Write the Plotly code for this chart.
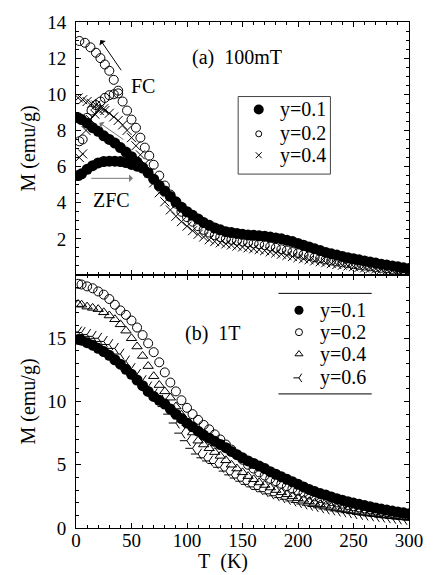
import plotly.graph_objects as go
from plotly.subplots import make_subplots

# ---------------- (a) 100 mT : magnetisation vs temperature ----------------
# y = 0.1, field-cooled
t_a01_fc = [2, 5, 10, 15, 20, 25, 30, 35, 40, 45, 50, 55, 60, 65, 70, 75, 80, 85, 90, 95,
            100, 105, 110, 115, 120, 125, 130, 135, 140, 145, 150, 155, 160, 165, 170, 175,
            180, 185, 190, 195, 200, 205, 210, 215, 220, 225, 230, 235, 240, 245, 250, 255,
            260, 265, 270, 275, 280, 285, 290, 295, 300]
m_a01_fc = [8.70, 8.60, 8.40, 8.15, 7.95, 7.70, 7.50, 7.30, 7.05, 6.80, 6.55, 6.25, 5.95, 5.65,
            5.30, 4.95, 4.65, 4.35, 4.05, 3.75, 3.50, 3.30, 3.10, 2.90, 2.75, 2.60, 2.50, 2.40,
            2.35, 2.30, 2.25, 2.22, 2.20, 2.17, 2.15, 2.10, 2.05, 2.00, 1.92, 1.85, 1.75, 1.65,
            1.55, 1.45, 1.35, 1.25, 1.17, 1.10, 1.03, 0.96, 0.90, 0.84, 0.78, 0.72, 0.66, 0.60,
            0.55, 0.50, 0.45, 0.40, 0.36]
# y = 0.1, zero-field-cooled
t_a01_zfc = [2, 5, 10, 15, 20, 25, 30, 35, 40, 45, 50, 55, 60]
m_a01_zfc = [5.50, 5.60, 5.85, 6.05, 6.20, 6.28, 6.30, 6.30, 6.28, 6.22, 6.12, 6.02, 5.92]

# y = 0.2, field-cooled
t_a02_fc = [3, 8, 13, 18, 22, 26, 30, 34, 38, 42, 46, 50, 54, 58, 62, 66, 70,
            75, 80, 85, 90, 95, 100, 105, 110, 115, 120, 125, 130, 135, 140, 145, 150,
            155, 160, 165, 170, 175, 180, 185, 190, 195, 200, 205, 210, 215, 220, 225,
            230, 235, 240, 245, 250, 255, 260, 265, 270, 275, 280, 285, 290, 295, 300]
m_a02_fc = [12.95, 12.85, 12.60, 12.30, 12.00, 11.65, 11.30, 10.80, 10.20, 9.60, 9.10, 8.60,
            8.15, 7.60, 7.05, 6.60, 6.10,
            5.50, 4.95, 4.45, 3.95, 3.50, 3.20, 2.95, 2.70, 2.50, 2.35, 2.20, 2.10, 2.00, 1.95,
            1.90, 1.85, 1.80, 1.75, 1.70, 1.65, 1.58, 1.50, 1.42, 1.35, 1.27, 1.20, 1.12, 1.05,
            0.98, 0.92, 0.86, 0.80, 0.75, 0.70, 0.65, 0.60, 0.56, 0.52, 0.48, 0.44, 0.40, 0.37,
            0.34, 0.31, 0.28, 0.26]
# y = 0.2, zero-field-cooled
t_a02_zfc = [3, 6, 10, 14, 18, 22, 26, 30, 34, 38]
m_a02_zfc = [7.40, 7.50, 8.70, 9.10, 9.40, 9.60, 9.80, 9.95, 10.00, 10.05]

# y = 0.4, field-cooled
t_a04_fc = [2, 6, 10, 14, 18, 22, 26, 30, 34, 38, 42, 46, 50, 54, 58, 62, 66, 70,
            75, 80, 85, 90, 95, 100, 105, 110, 115, 120, 125, 130, 135, 140, 145, 150,
            155, 160, 165, 170, 175, 180, 185, 190, 195, 200, 205, 210, 215, 220, 225,
            230, 235, 240, 245, 250, 255, 260, 265, 270, 275, 280, 285, 290, 295, 300]
m_a04_fc = [9.80, 9.70, 9.60, 9.50, 9.40, 9.25, 9.10, 8.95, 8.75, 8.55, 8.30, 8.00, 7.60,
            7.15, 6.65, 6.15, 5.65, 5.10,
            4.55, 4.05, 3.60, 3.25, 2.95, 2.70, 2.45, 2.25, 2.10, 1.95, 1.85, 1.78, 1.72,
            1.66, 1.60, 1.55, 1.50, 1.45, 1.40, 1.35, 1.28, 1.22, 1.15, 1.08, 1.02, 0.96,
            0.90, 0.84, 0.78, 0.73, 0.68, 0.63, 0.58, 0.54, 0.50, 0.46, 0.42, 0.39, 0.36,
            0.33, 0.30, 0.27, 0.24, 0.22, 0.20, 0.18]
# y = 0.4, zero-field-cooled
t_a04_zfc = [3, 6, 9, 13, 17, 21, 25]
m_a04_zfc = [6.50, 6.70, 8.00, 8.60, 8.90, 9.10, 9.20]

# ---------------- (b) 1 T ----------------
t_b = [2, 5, 10, 15, 20, 25, 30, 35, 40, 45, 50, 55, 60, 65, 70, 75, 80, 85, 90, 95,
       100, 105, 110, 115, 120, 125, 130, 135, 140, 145, 150, 155, 160, 165, 170, 175,
       180, 185, 190, 195, 200, 205, 210, 215, 220, 225, 230, 235, 240, 245, 250, 255,
       260, 265, 270, 275, 280, 285, 290, 295, 300]
m_b01 = [14.90, 14.85, 14.65, 14.45, 14.20, 13.95, 13.65, 13.30, 12.95, 12.55, 12.15, 11.70,
         11.25, 10.80, 10.40, 10.10, 9.80, 9.40, 9.00, 8.65, 8.30, 8.00, 7.65, 7.35, 7.10,
         6.85, 6.60, 6.35, 6.05, 5.80, 5.55, 5.30, 5.10, 4.90, 4.70, 4.45, 4.25, 4.05, 3.85,
         3.65, 3.45, 3.25, 3.05, 2.88, 2.72, 2.60, 2.45, 2.32, 2.20, 2.08, 1.97, 1.87, 1.77,
         1.68, 1.59, 1.50, 1.42, 1.34, 1.27, 1.20, 1.13]
m_b02 = [19.30, 19.25, 19.10, 18.95, 18.70, 18.45, 18.10, 17.65, 17.20, 16.85, 16.40, 15.85,
         15.25, 14.60, 13.90, 13.10, 12.30, 11.50, 10.80, 10.10, 9.50, 9.00, 8.55, 8.15, 7.80,
         7.40, 7.00, 6.60, 6.20, 5.80, 5.40, 5.00, 4.70, 4.40, 4.15, 3.90, 3.70, 3.50, 3.30,
         3.12, 2.95, 2.80, 2.65, 2.50, 2.37, 2.25, 2.13, 2.02, 1.92, 1.82, 1.72, 1.63, 1.55,
         1.47, 1.39, 1.31, 1.24, 1.17, 1.10, 1.03, 0.97]
m_b04 = [17.70, 17.65, 17.50, 17.40, 17.30, 17.05, 16.80, 16.50, 16.10, 15.60, 15.00, 14.35,
         13.60, 12.80, 12.00, 11.30, 10.80, 10.30, 9.60, 8.95, 8.30, 7.55, 6.90, 6.60, 6.30,
         6.00, 5.70, 5.35, 5.00, 4.70, 4.40, 4.10, 3.85, 3.60, 3.40, 3.20, 3.00, 2.82, 2.66,
         2.50, 2.36, 2.23, 2.10, 1.98, 1.87, 1.77, 1.67, 1.58, 1.50, 1.42, 1.35, 1.28, 1.21,
         1.15, 1.09, 1.03, 0.98, 0.93, 0.88, 0.84, 0.80]
m_b06 = [15.50, 15.45, 15.30, 15.15, 15.00, 14.75, 14.50, 14.20, 13.75, 13.20, 12.60, 12.15,
         11.65, 11.15, 10.60, 10.10, 9.60, 9.00, 8.30, 7.50, 6.90, 6.30, 5.85, 5.55, 5.30,
         5.10, 4.80, 4.50, 4.20, 3.95, 3.70, 3.45, 3.25, 3.05, 2.87, 2.70, 2.55, 2.40, 2.27,
         2.14, 2.02, 1.90, 1.80, 1.70, 1.60, 1.51, 1.43, 1.35, 1.28, 1.21, 1.14, 1.08, 1.02,
         0.96, 0.91, 0.86, 0.81, 0.76, 0.72, 0.68, 0.64]

# legend labels
labels_a = ["y=0.1", "y=0.2", "y=0.4"]
labels_b = ["y=0.1", "y=0.2", "y=0.4", "y=0.6"]

FONT = "Liberation Serif"
INK = "black"

fig = make_subplots(rows=2, cols=1, shared_xaxes=True, vertical_spacing=0)

def sym(symbol, size, thin=False):
    line = dict(width=1, color=INK) if (thin or "open" in symbol) else dict(width=0)
    return dict(symbol=symbol, size=size, color=INK, line=line)

SYM = {"filled": "circle", "hollow": "circle-open", "cross": "x-thin",
       "tri": "triangle-up-open", "angle": "y-left"}
THIN = {"cross", "angle"}
PLOT_SIZE = {"filled": 11, "hollow": 9, "cross": 9, "tri": 9, "angle": 9}

def add(t, m, kind, row):
    fig.add_trace(go.Scatter(x=t, y=m, mode="markers",
                             marker=sym(SYM[kind], PLOT_SIZE[kind], kind in THIN),
                             showlegend=False, hoverinfo="skip"), row=row, col=1)

# panel (a)
add(t_a04_fc, m_a04_fc, "cross", 1)
add(t_a04_zfc, m_a04_zfc, "cross", 1)
add(t_a02_fc, m_a02_fc, "hollow", 1)
add(t_a02_zfc, m_a02_zfc, "hollow", 1)
add(t_a01_fc, m_a01_fc, "filled", 1)
add(t_a01_zfc, m_a01_zfc, "filled", 1)

# panel (b)
add(t_b, m_b06, "angle", 2)
add(t_b, m_b04, "tri", 2)
add(t_b, m_b02, "hollow", 2)
add(t_b, m_b01, "filled", 2)

axis_style = dict(showline=True, linewidth=1, linecolor=INK, mirror="ticks",
                  ticks="inside", ticklen=5, tickwidth=1, tickcolor=INK,
                  showgrid=False, zeroline=False,
                  tickfont=dict(family=FONT, size=19, color=INK))

fig.update_xaxes(**axis_style, range=[0, 300], dtick=50, tick0=0,
                 minor=dict(ticks="inside", ticklen=3, dtick=10, tick0=0, tickcolor=INK))
fig.update_xaxes(showticklabels=False, row=1, col=1)
fig.update_xaxes(ticklabelstandoff=-5, row=2, col=1)

fig.update_yaxes(**axis_style, range=[0, 14], tickvals=[2, 4, 6, 8, 10, 12, 14],
                 minor=dict(ticks="inside", ticklen=3, dtick=0.5, tick0=0, tickcolor=INK),
                 ticklabelstandoff=5,
                 title=dict(text="M (emu/g)", font=dict(family=FONT, size=20), standoff=6),
                 row=1, col=1)
fig.update_yaxes(**axis_style, range=[0, 20], tickvals=[0, 5, 10, 15],
                 minor=dict(ticks="inside", ticklen=3, dtick=1, tick0=0, tickcolor=INK),
                 ticklabelstandoff=5,
                 title=dict(text="M (emu/g)", font=dict(family=FONT, size=20), standoff=6),
                 row=2, col=1)

# transparent overlay axes spanning the plotting area, used to place legend keys
fig.update_layout(
    xaxis3=dict(domain=[0, 1], range=[0, 1], visible=False, fixedrange=True, anchor="y3"),
    yaxis3=dict(domain=[0, 1], range=[0, 1], visible=False, fixedrange=True, anchor="x3"),
)

txt = dict(family=FONT, size=20, color=INK)
def label(text, x, y, xanchor="center"):
    fig.add_annotation(text=text, xref="paper", yref="paper", x=x, y=y,
                       xanchor=xanchor, yanchor="middle", showarrow=False, font=txt)

def key_block(kinds, names, key_x, text_x, rows, sizes):
    for kind, name, ry, sz in zip(kinds, names, rows, sizes):
        fig.add_trace(go.Scatter(x=[key_x], y=[ry], mode="markers",
                                 marker=sym(SYM[kind], sz, kind in THIN),
                                 xaxis="x3", yaxis="y3", cliponaxis=False,
                                 showlegend=False, hoverinfo="skip"))
        label(name, text_x, ry, "left")

key_block(["filled", "hollow", "cross"], labels_a, 0.5487, 0.606,
          [0.8271, 0.7790, 0.7367], [10, 6, 6])
key_block(["filled", "hollow", "tri", "angle"], labels_b, 0.6696, 0.727,
          [0.4303, 0.3870, 0.3438, 0.2967], [9, 7, 7, 7])

# frame of the (a) legend
fig.add_shape(type="rect", xref="paper", yref="paper",
              x0=0.487, x1=0.764, y0=0.6994, y1=0.8527,
              line=dict(color="#444", width=1), fillcolor="rgba(0,0,0,0)")
# rules above and below the (b) legend
for yy in (0.4637, 0.265):
    fig.add_shape(type="line", xref="paper", yref="paper",
                  x0=0.608, x1=0.888, y0=yy, y1=yy, line=dict(color=INK, width=1))

fig.update_layout(
    width=435, height=575,
    margin=dict(l=76, r=20, t=19, b=47),
    plot_bgcolor="rgba(0,0,0,0)", paper_bgcolor="white",
    font=dict(family=FONT, size=19, color=INK),
    showlegend=False,
)

label("(a)\u00a0\u00a0100mT", 0.342, 0.929, "left")
label("(b)\u00a0\u00a01T", 0.322, 0.385, "left")
label("FC", 0.2006, 0.874)
label("ZFC", 0.106, 0.648)
label("T\u00a0\u00a0(K)", 0.442, -0.067)

# cooling / warming arrows in panel (a)
arrows = [
    (22, 13.0, 41.6, 11.25, INK),
    (21, 8.43, 44, 7.44, "#777"),
    (51.3, 5.35, 12.4, 5.35, "#777"),
]
for hx, hy, tx, ty, col in arrows:
    fig.add_annotation(x=hx, y=hy, ax=tx, ay=ty, xref="x", yref="y", axref="x", ayref="y",
                       text="", showarrow=True, arrowhead=1, arrowsize=1.3,
                       arrowwidth=1, arrowcolor=col)

fig.write_html("out.html")
